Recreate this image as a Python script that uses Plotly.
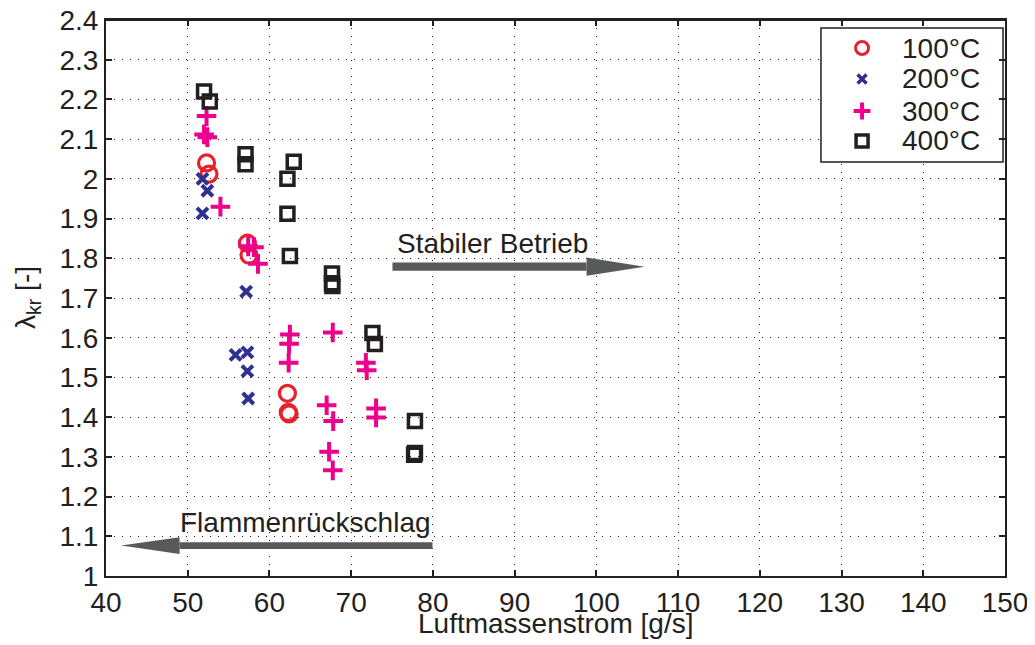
import plotly.graph_objects as go

# ---- data ----
x100 = [52.3, 52.6, 57.3, 57.5, 62.2, 62.3, 62.4]
y100 = [2.04, 2.012, 1.838, 1.808, 1.46, 1.412, 1.408]

x200 = [51.8, 52.4, 51.8, 57.15, 55.85, 57.3, 57.3, 57.4]
y200 = [2.0, 1.97, 1.913, 1.716, 1.557, 1.563, 1.516, 1.447]

x300 = [52.3, 52.0, 52.4, 54.0, 57.4, 58.1, 58.6, 62.5, 62.4, 62.35, 67.75,
        71.8, 71.9, 67.0, 67.8, 73.05, 73.05, 67.3, 67.75]
y300 = [2.158, 2.112, 2.105, 1.93, 1.83, 1.828, 1.786, 1.608, 1.585, 1.537, 1.613,
        1.537, 1.518, 1.43, 1.39, 1.422, 1.399, 1.313, 1.266]

x400 = [52.0, 52.7, 57.07, 57.07, 62.97, 62.2, 62.2, 62.5, 67.65, 67.65, 67.7,
        72.6, 72.9, 77.8, 77.8, 77.7]
y400 = [2.22, 2.195, 2.062, 2.037, 2.043, 2.0, 1.912, 1.806, 1.762, 1.737, 1.73,
        1.612, 1.584, 1.39, 1.31, 1.305]

series_names = ["100°C", "200°C", "300°C", "400°C"]

xticks = list(range(40, 151, 10))
yticks = [round(1 + 0.1 * i, 1) for i in range(15)]
ytick_text = [("%g" % v) for v in yticks]

FONT = "Liberation Sans, Arial, Helvetica, sans-serif"
FS = 28
RED = "#e8202a"
BLUE = "#2e3192"
MAG = "#ec008c"
BLK = "#231f20"
GREY = "#58595b"

styles = [
    dict(symbol="circle-open", size=16, color=RED, line=dict(color=RED, width=3.2)),
    dict(symbol="x-thin-open", size=11, color=BLUE, line=dict(color=BLUE, width=4)),
    dict(symbol="cross-thin-open", size=14, color=MAG, line=dict(color=MAG, width=4)),
    dict(symbol="square-open", size=13, color=BLK, line=dict(color=BLK, width=3.5)),
]
xs = [x100, x200, x300, x400]
ys = [y100, y200, y300, y400]

fig = go.Figure()
for xv, yv, nm, st in zip(xs, ys, series_names, styles):
    fig.add_trace(go.Scatter(x=xv, y=yv, mode="markers", name=nm,
                             marker=st, showlegend=False))

# ---- legend (box + markers + labels), in fractions of the plot area ----
LEG_X0, LEG_X1, LEG_Y0, LEG_Y1 = 0.7953, 0.9978, 0.7446, 0.9856
row_y = [0.9496, 0.8939, 0.8363, 0.7824]
mark_x = 0.841
text_x = 0.8832
legend_styles = [
    dict(symbol="circle-open", size=13, color=RED, line=dict(color=RED, width=3)),
    dict(symbol="x-thin-open", size=9, color=BLUE, line=dict(color=BLUE, width=3.5)),
    dict(symbol="cross-thin-open", size=12, color=MAG, line=dict(color=MAG, width=4)),
    dict(symbol="square-open", size=12, color=BLK, line=dict(color=BLK, width=3.5)),
]
for ry, st, nm in zip(row_y, legend_styles, series_names):
    fig.add_trace(go.Scatter(x=[mark_x], y=[ry], mode="markers", marker=st,
                             xaxis="x2", yaxis="y2", showlegend=False,
                             hoverinfo="skip", name=nm))

def arrow(x_tail, x_base, x_tip, yc, half_shaft, half_head):
    shaft = dict(type="rect", xref="x", yref="y",
                 x0=min(x_tail, x_base), x1=max(x_tail, x_base),
                 y0=yc - half_shaft, y1=yc + half_shaft,
                 fillcolor=GREY, line=dict(width=0), layer="above")
    head = dict(type="path", xref="x", yref="y",
                path=f"M {x_base},{yc - half_head} L {x_tip},{yc} L {x_base},{yc + half_head} Z",
                fillcolor=GREY, line=dict(width=0), layer="above")
    return [shaft, head]

XR = [40, 150]
YR = [1, 2.4]

shapes = arrow(75.05, 98.8, 105.9, 1.779, 0.0105, 0.023) + \
         arrow(79.95, 49.0, 41.85, 1.0766, 0.0085, 0.021)
shapes.append(dict(type="rect", xref="x", yref="y",
                   x0=XR[0] + LEG_X0 * (XR[1] - XR[0]),
                   x1=XR[0] + LEG_X1 * (XR[1] - XR[0]),
                   y0=YR[0] + LEG_Y0 * (YR[1] - YR[0]),
                   y1=YR[0] + LEG_Y1 * (YR[1] - YR[0]),
                   fillcolor="white", line=dict(color=BLK, width=1.5), layer="between"))
# top frame line of the axes box
shapes.append(dict(type="line", xref="paper", yref="paper", x0=0, x1=1, y0=1, y1=1,
                   line=dict(color=BLK, width=2), layer="above"))

annotations = [
    dict(x=75.3, y=1.837, xref="x", yref="y", text="Stabiler Betrieb",
         showarrow=False, xanchor="left", yanchor="middle",
         font=dict(family=FONT, size=FS, color=BLK)),
    dict(x=79.95, y=1.135, xref="x", yref="y", text="Flammenrückschlag",
         showarrow=False, xanchor="right", yanchor="middle",
         font=dict(family=FONT, size=FS, color=BLK)),
    # axis titles
    dict(x=0.5, y=0, xref="paper", yref="paper", text="Luftmassenstrom [g/s]",
         showarrow=False, xanchor="center", yanchor="middle", yshift=-47,
         font=dict(family=FONT, size=FS, color=BLK)),
    dict(x=0, y=0.5, xref="paper", yref="paper", text="λ<sub>kr</sub> [-]",
         showarrow=False, xanchor="center", yanchor="middle", xshift=-79,
         textangle=-90, font=dict(family=FONT, size=FS, color=BLK)),
]
for ry, nm in zip(row_y, series_names):
    annotations.append(dict(x=text_x, y=ry, xref="paper", yref="paper", text=nm,
                            showarrow=False, xanchor="left", yanchor="middle",
                            font=dict(family=FONT, size=FS, color=BLK)))

# page body has an 8px margin: compensate so the plot area lands where it should
fig.update_layout(
    width=1027, height=637,
    margin=dict(l=98, r=30, t=12, b=69, autoexpand=False),
    paper_bgcolor="white", plot_bgcolor="white",
    font=dict(family=FONT, size=FS, color=BLK),
    shapes=shapes,
    annotations=annotations,
    showlegend=False,
    xaxis2=dict(range=[0, 1], overlaying="x", visible=False, fixedrange=True),
    yaxis2=dict(range=[0, 1], overlaying="y", visible=False, fixedrange=True),
)

fig.layout.xaxis.update(
    range=XR, tickvals=xticks, ticktext=[str(v) for v in xticks],
    showline=True, linecolor=BLK, linewidth=2, mirror="ticks",
    ticks="inside", ticklen=6, tickwidth=1.5, tickcolor=BLK,
    showgrid=True, gridcolor=BLK, gridwidth=1, griddash="1px,7px",
    zeroline=False, automargin=False, ticklabeloverflow="allow",
    tickfont=dict(family=FONT, size=FS, color=BLK))
fig.layout.yaxis.update(
    range=YR, tickvals=yticks, ticktext=ytick_text,
    showline=True, linecolor=BLK, linewidth=2, mirror="ticks",
    ticks="inside", ticklen=6, tickwidth=1.5, tickcolor=BLK,
    showgrid=True, gridcolor=BLK, gridwidth=1, griddash="1px,7px",
    zeroline=False, automargin=False, ticklabeloverflow="allow",
    tickfont=dict(family=FONT, size=FS, color=BLK))

fig.write_html("out.html")
